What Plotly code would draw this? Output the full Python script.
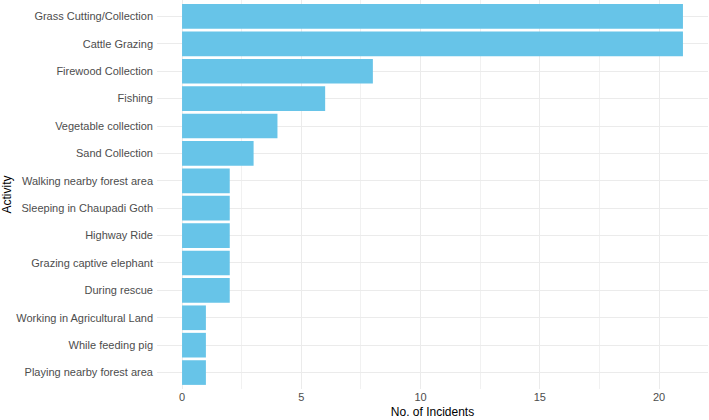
import plotly.graph_objects as go

activities = [
    "Grass Cutting/Collection", "Cattle Grazing", "Firewood Collection", "Fishing",
    "Vegetable collection", "Sand Collection", "Walking nearby forest area",
    "Sleeping in Chaupadi Goth", "Highway Ride", "Grazing captive elephant",
    "During rescue", "Working in Agricultural Land", "While feeding pig",
    "Playing nearby forest area",
]
incidents = [21, 21, 8, 6, 4, 3, 2, 2, 2, 2, 2, 1, 1, 1]
x_ticks = [0, 5, 10, 15, 20]

cats = activities[::-1]
vals = incidents[::-1]

fig = go.Figure(go.Bar(
    x=vals, y=cats, orientation="h", width=0.9,
    marker=dict(color="#67C4E8", line=dict(width=0)),
))

font_fam = "Liberation Sans, Arial, sans-serif"
fig.update_layout(
    width=709, height=420,
    margin=dict(l=157, r=1, t=0, b=31, autoexpand=False),
    plot_bgcolor="white", paper_bgcolor="white",
    showlegend=False,
    font=dict(family=font_fam, color="#4d4d4d", size=11),
)
fig.update_xaxes(
    range=[-1.05, 22.05], tickvals=x_ticks, ticktext=[str(v) for v in x_ticks],
    showgrid=True, gridcolor="#ebebeb", gridwidth=1, zeroline=False,
    minor=dict(dtick=2.5, tick0=0, showgrid=True, gridcolor="#f1f1f1", gridwidth=0.6),
    tickfont=dict(size=11, color="#4d4d4d"),
    title=dict(text="No. of Incidents", font=dict(size=12, color="black"), standoff=5),
    showline=False, ticks="", automargin=False,
)
fig.update_yaxes(
    type="category", categoryorder="array", categoryarray=cats,
    range=[-0.6, len(cats) - 0.4],
    showgrid=True, gridcolor="#ebebeb", gridwidth=1, zeroline=False,
    tickfont=dict(size=11, color="#4d4d4d"),
    title=dict(text="Activity", font=dict(size=12, color="black"), standoff=2),
    showline=False, ticks="", ticklabelstandoff=3, automargin=False,
)

fig.write_html(
    "out.html",
    config={"displayModeBar": False},
    post_script="document.body.style.margin='0';document.body.style.padding='0';",
)
